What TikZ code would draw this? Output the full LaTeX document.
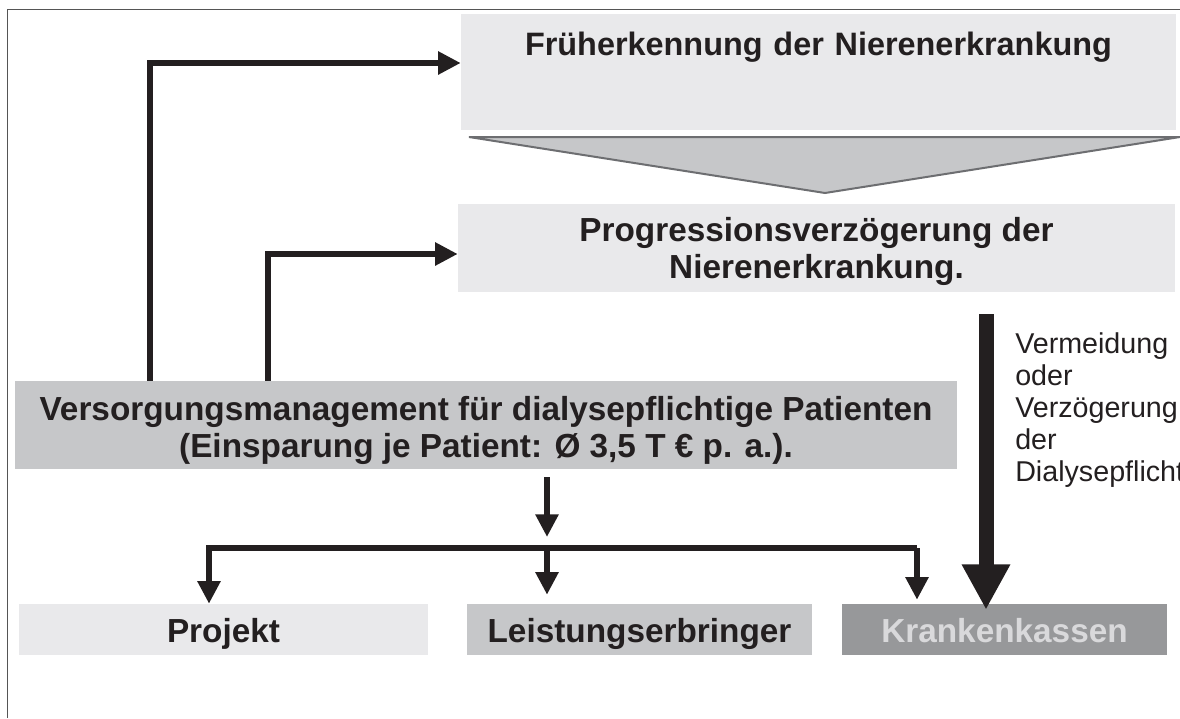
\documentclass[tikz,border=0pt]{standalone}
\usepackage{fontspec}
\setmainfont{Liberation Sans}
\usetikzlibrary{arrows.meta}
\definecolor{boxlt}{HTML}{E9E9EB}
\definecolor{boxmid}{HTML}{C6C7C9}
\definecolor{boxdk}{HTML}{97989A}
\definecolor{kassetxt}{HTML}{D9D9DB}
\definecolor{arrowc}{HTML}{231F20}
\definecolor{tric}{HTML}{6D6E71}
\definecolor{framec}{HTML}{555555}
\newcommand{\boxfont}{\fontsize{25}{27.75}\selectfont\bfseries}
\newcommand{\topfont}{\fontsize{24.3}{27.75}\selectfont\bfseries}
\newcommand{\notefont}{\fontsize{21.5}{24}\selectfont}

\begin{document}
\begin{tikzpicture}[line join=miter,x=0.75pt,y=-0.75pt,
  box/.style={inner sep=0pt,align=center,font=\boxfont,text=arrowc},
  lowbox/.style={box,text height=28.5pt,text depth=9.75pt},
  arr/.style={draw=arrowc,line width=4.5pt,-{Triangle[length=17pt,width=16.5pt]}},
  bigarr/.style={draw=arrowc,line width=11.25pt,-{Triangle[length=34pt,width=34pt]}}]
\useasboundingbox (0,0) rectangle (1180,718);
\draw[framec,line width=1.1pt] (7.5,718) -- (7.5,9.5) -- (1180,9.5);
%
\node[box,font=\topfont,fill=boxlt,text width=536.25pt,text height=30.75pt,text depth=56.25pt] (frueh) at (818.5,72)
  {Früherkennung der Nierenerkrankung};
\filldraw[fill=boxmid,draw=tric,line width=1.5pt] (469,137) -- (1180,137) -- (825,193) -- cycle;
\node[box,fill=boxlt,minimum width=537.75pt,text height=55.5pt,text depth=10.5pt] (progr) at (816.5,248)
  {Progressionsverzögerung der\\Nierenerkrankung.};
\node[box,fill=boxmid,minimum width=706.5pt,text height=57pt,text depth=9pt] (versorg) at (486,425)
  {Versorgungsmanagement für dialysepflichtige Patienten\\(Einsparung je Patient: Ø 3,5 T € p. a.).};
%
\node[lowbox,fill=boxlt,minimum width=306.75pt] (projekt) at (223.5,629.5) {Projekt};
\node[lowbox,fill=boxmid,minimum width=258.75pt] (leist) at (639.5,629.5) {Leistungserbringer};
\node[lowbox,fill=boxdk,text=kassetxt,minimum width=243.75pt] (kasse) at (1004.5,629.5) {Krankenkassen};
%
\coordinate (up1) at (150,63);
\coordinate (up2) at (268,254);
\draw[arr] (versorg.north -| up1) -- (up1) -- (frueh.west |- up1);
\draw[arr] (versorg.north -| up2) -- (up2) -- (progr.west |- up2);
%
\coordinate (stub) at (547,477);
\coordinate (bus) at (547,548);
\coordinate (busl) at (209,548);
\coordinate (busr) at (917,548);
\draw[arr] (stub) -- ([yshift=8.25pt]bus);
\draw[arr] (busr) -- (busl) -- (projekt.north -| busl);
\draw[arr] (busr) -- ([yshift=3pt]kasse.north -| busr);
\draw[arr] (bus) -- ([yshift=6.75pt]leist.north -| bus);
%
\coordinate (dtop) at (986,314);
\draw[bigarr] (dtop) -- ([yshift=-4.5pt]kasse.north -| dtop);
\node[anchor=base west,align=left,font=\notefont,text=arrowc,inner sep=0pt] (vermeid) at (1015,481)
  {Vermeidung\\oder\\Verzögerung\\der\\Dialysepflicht};
\end{tikzpicture}
\end{document}
